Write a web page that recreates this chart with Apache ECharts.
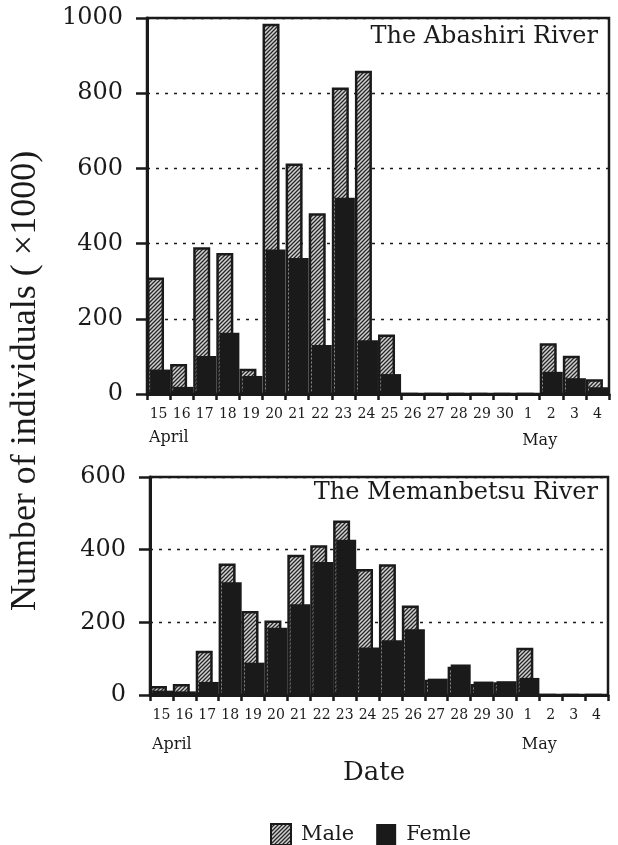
<!DOCTYPE html>
<html>
<head>
<meta charset="utf-8">
<script src="https://cdn.jsdelivr.net/npm/echarts@6/dist/echarts.min.js"></script>
<style>
  html, body { margin: 0; padding: 0; background: #fff; }
  #chart { width: 618px; height: 845px; }
</style>
</head>
<body>
<div id="chart"></div>
<script>
// Dates of sampling: 15-30 April, 1-4 May
const days = ['15','16','17','18','19','20','21','22','23','24','25','26','27','28','29','30','1','2','3','4'];

// Abashiri River (x1000 individuals)
const abashiriMale   = [310, 80, 390, 375, 67, 985, 613, 481, 815, 860, 158, 0, 0, 0, 0, 0, 0, 135, 102, 39];
const abashiriFemale = [65, 19, 101, 163, 48, 384, 362, 130, 522, 143, 53, 0, 0, 0, 0, 0, 0, 59, 42, 18];

// Memanbetsu River (x1000 individuals)
const memanbetsuMale   = [25, 30, 122, 362, 231, 205, 386, 412, 480, 347, 360, 246, 42, 78, 30, 35, 130, 0, 0, 0];
const memanbetsuFemale = [12, 10, 36, 310, 89, 185, 250, 366, 427, 131, 151, 181, 45, 84, 37, 38, 47, 0, 0, 0];

const topTicks = [0, 200, 400, 600, 800, 1000];
const bottomTicks = [0, 200, 400, 600];

const SERIF = '"DejaVu Serif", "Liberation Serif", serif';
const INK = '#1a1a1a';

// diagonal hatch used for the male bars
function hatchPattern() {
  const c = document.createElement('canvas');
  const s = 4;
  c.width = s; c.height = s;
  const g = c.getContext('2d');
  g.fillStyle = '#d2d2d2';
  g.fillRect(0, 0, s, s);
  g.strokeStyle = '#262626';
  g.lineWidth = 1.3;
  g.beginPath();
  g.moveTo(0, s); g.lineTo(s, 0);
  g.moveTo(-1, 1); g.lineTo(1, -1);
  g.moveTo(s - 1, s + 1); g.lineTo(s + 1, s - 1);
  g.stroke();
  return { image: c, repeat: 'repeat' };
}
const hatch = hatchPattern();

function xAxisFor(gridIndex) {
  return {
    type: 'category', gridIndex, data: days,
    axisLine: { lineStyle: { color: INK, width: 3 } },
    axisTick: { show: true, interval: 0, length: 6, lineStyle: { color: INK, width: 2.5 } },
    axisLabel: { interval: 0, margin: 13, color: INK, fontFamily: SERIF, fontSize: 14 }
  };
}
function yAxisFor(gridIndex, ticks) {
  return {
    type: 'value', gridIndex,
    min: ticks[0], max: ticks[ticks.length - 1], interval: ticks[1] - ticks[0],
    axisLine: { show: true, lineStyle: { color: INK, width: 3 } },
    axisTick: { show: true, length: 11, lineStyle: { color: INK, width: 2.5 } },
    axisLabel: { margin: 24, color: INK, fontFamily: SERIF, fontSize: 24, formatter: v => String(v) },
    splitLine: { show: true, lineStyle: { color: INK, width: 1.4, type: [3, 6] } }
  };
}
function maleSeries(idx, data) {
  return {
    name: 'Male', type: 'bar', xAxisIndex: idx, yAxisIndex: idx, data,
    barWidth: 17, barGap: '-82%',
    itemStyle: { color: hatch, borderColor: INK, borderWidth: 2.5 },
    emphasis: { disabled: true }
  };
}
function femaleSeries(idx, data) {
  return {
    name: 'Femle', type: 'bar', xAxisIndex: idx, yAxisIndex: idx, data,
    barWidth: 20,
    itemStyle: { color: INK },
    emphasis: { disabled: true }
  };
}

const chart = echarts.init(document.getElementById('chart'), null, { renderer: 'canvas' });

const option = {
  animation: false,
  backgroundColor: '#fff',
  title: [
    { text: 'The Abashiri River', right: 20, top: 25, padding: 0,
      textStyle: { fontFamily: SERIF, fontSize: 24, fontWeight: 'normal', color: INK } },
    { text: 'The Memanbetsu River', right: 20, top: 481, padding: 0,
      textStyle: { fontFamily: SERIF, fontSize: 24, fontWeight: 'normal', color: INK } }
  ],
  legend: {
    left: 265, top: 818, itemWidth: 20, itemHeight: 21, itemGap: 22,
    icon: 'rect',
    data: ['Male', 'Femle'],
    textStyle: { fontFamily: SERIF, fontSize: 21, color: INK, padding: [0, 0, 0, 5] },
    selectedMode: false
  },
  grid: [
    { left: 147, right: 9, top: 18, height: 376, show: true, borderColor: INK, borderWidth: 2.5 },
    { left: 150, right: 10, top: 477, height: 218, show: true, borderColor: INK, borderWidth: 2.5 }
  ],
  xAxis: [xAxisFor(0), xAxisFor(1)],
  yAxis: [yAxisFor(0, topTicks), yAxisFor(1, bottomTicks)],
  series: [
    maleSeries(0, abashiriMale), femaleSeries(0, abashiriFemale),
    maleSeries(1, memanbetsuMale), femaleSeries(1, memanbetsuFemale)
  ]
};
chart.setOption(option);

// month captions under the date axis, placed from the axis scale
function boundaryX(gridIndex, catIndex) {
  const a = chart.convertToPixel({ xAxisIndex: gridIndex }, days[catIndex]);
  const b = chart.convertToPixel({ xAxisIndex: gridIndex }, days[catIndex + 1]);
  return a - (b - a) / 2;
}
const monthStyle = { fontFamily: SERIF, fontSize: 16, fill: INK };
chart.setOption({
  graphic: [
    { type: 'text', left: boundaryX(0, 0) + 2, top: 430, style: Object.assign({ text: 'April' }, monthStyle) },
    { type: 'text', x: boundaryX(0, 17), y: 441, style: Object.assign({ text: 'May', textAlign: 'center', textVerticalAlign: 'middle' }, monthStyle) },
    { type: 'text', left: boundaryX(1, 0) + 2, top: 737, style: Object.assign({ text: 'April' }, monthStyle) },
    { type: 'text', x: boundaryX(1, 17), y: 745, style: Object.assign({ text: 'May', textAlign: 'center', textVerticalAlign: 'middle' }, monthStyle) },
    { type: 'text', x: 374, y: 773, style: { text: 'Date', fontFamily: SERIF, fontSize: 26, fill: INK, textAlign: 'center', textVerticalAlign: 'middle' } },
    { type: 'text', x: 26, y: 381, rotation: Math.PI / 2,
      style: { text: 'Number of individuals ( \u00D71000)', fontFamily: '"Liberation Serif", serif', fontSize: 36, fill: INK, textAlign: 'center', textVerticalAlign: 'middle' } }
  ]
});
</script>
</body>
</html>
